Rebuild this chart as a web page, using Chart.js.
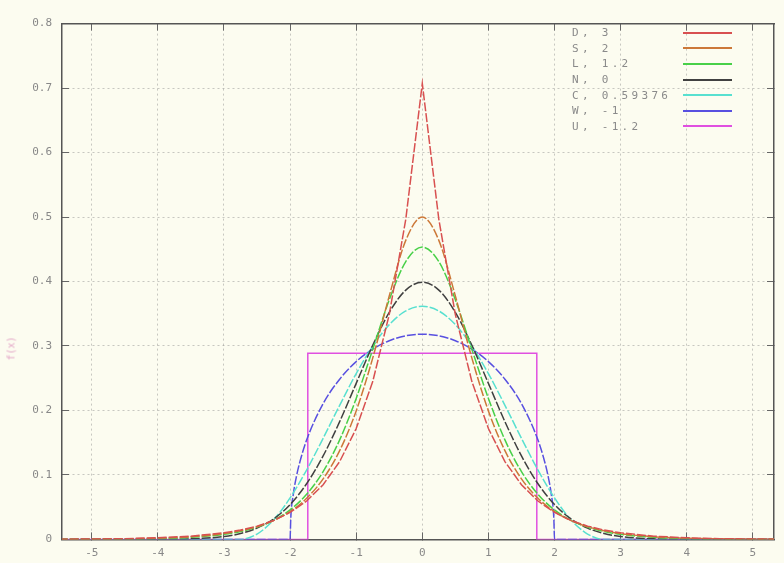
<!DOCTYPE html>
<html>
<head>
<meta charset="utf-8">
<script src="https://cdn.jsdelivr.net/npm/chart.js@4"></script>
<style>
  html, body { margin: 0; padding: 0; background: #fcfcf0; }
  #wrap { position: relative; width: 784px; height: 563px; }
  #legend {
    position: absolute; left: 572px; top: 25px;
    font-family: "DejaVu Sans Mono", monospace; font-size: 11px;
    letter-spacing: 3.3px; color: #8a8a8a;
  }
  #legend .row { display: flex; align-items: center; height: 15.6px; }
  #legend .lbl { width: 111px; white-space: pre; }
  #legend .key { width: 49px; height: 0; border-top: 2px solid; }
  #ytitle {
    position: absolute; left: -4px; top: 343px; width: 30px; text-align: center;
    transform: rotate(-90deg); font-family: "DejaVu Sans Mono", monospace;
    font-size: 10px; color: #e4a8c8;
  }
</style>
</head>
<body>
<div id="wrap">
  <canvas id="chart" width="784" height="563"></canvas>
  <div id="legend"></div>
  <div id="ytitle">f(x)</div>
</div>
<script>
// legend labels and colours
const labels = ["D, 3", "S, 2", "L, 1.2", "N, 0", "C, 0.59376", "W, -1", "U, -1.2"];
const colors = ["#d85050", "#cc7838", "#48d048", "#404040", "#58e0d0", "#5850e0", "#e050e0"];

// shared x positions for the smooth curves
const xs = [-5.5, -5, -4.5, -4, -3.5,
  -3, -2.75, -2.5, -2.25, -2, -1.75, -1.5, -1.25, -1, -0.75, -0.5, -0.25,
  0, 0.25, 0.5, 0.75, 1, 1.25, 1.5, 1.75, 2, 2.25, 2.5, 2.75, 3,
  3.5, 4, 4.5, 5, 5.5];

const laplace = [0.0003, 0.0006, 0.0012, 0.0025, 0.0050,
  0.0102, 0.0145, 0.0206, 0.0294, 0.0418, 0.0595, 0.0848, 0.1207, 0.1719, 0.2448, 0.3487, 0.4965,
  0.7071, 0.4965, 0.3487, 0.2448, 0.1719, 0.1207, 0.0848, 0.0595, 0.0418, 0.0294, 0.0206, 0.0145, 0.0102,
  0.0050, 0.0025, 0.0012, 0.0006, 0.0003];

const sech = [0.0002, 0.0004, 0.0009, 0.0019, 0.0041,
  0.0090, 0.0133, 0.0197, 0.0292, 0.0431, 0.0637, 0.0939, 0.1376, 0.1993, 0.2812, 0.3775, 0.4638,
  0.5000, 0.4638, 0.3775, 0.2812, 0.1993, 0.1376, 0.0939, 0.0637, 0.0431, 0.0292, 0.0197, 0.0133, 0.0090,
  0.0041, 0.0019, 0.0009, 0.0004, 0.0002];

const logistic = [0.0001, 0.0002, 0.0005, 0.0013, 0.0032,
  0.0078, 0.0122, 0.0191, 0.0296, 0.0457, 0.0699, 0.1051, 0.1543, 0.2186, 0.2947, 0.3716, 0.4309,
  0.4534, 0.4309, 0.3716, 0.2947, 0.2186, 0.1543, 0.1051, 0.0699, 0.0457, 0.0296, 0.0191, 0.0122, 0.0078,
  0.0032, 0.0013, 0.0005, 0.0002, 0.0001];

const normal = [0, 0, 0, 0.0001, 0.0009,
  0.0044, 0.0091, 0.0175, 0.0317, 0.0540, 0.0863, 0.1295, 0.1826, 0.2420, 0.3011, 0.3521, 0.3867,
  0.3989, 0.3867, 0.3521, 0.3011, 0.2420, 0.1826, 0.1295, 0.0863, 0.0540, 0.0317, 0.0175, 0.0091, 0.0044,
  0.0009, 0.0001, 0, 0, 0];

const cosine = [0, 0, 0, 0, 0,
  0, 0, 0.0083, 0.0302, 0.0643, 0.1076, 0.1568, 0.2080, 0.2571, 0.2998, 0.3331, 0.3543,
  0.3615, 0.3543, 0.3331, 0.2998, 0.2571, 0.2080, 0.1568, 0.1076, 0.0643, 0.0302, 0.0083, 0, 0,
  0, 0, 0, 0, 0];

// semicircle needs its own x positions near the edges
const wX = [-5.5, -2, -1.99, -1.95, -1.9, -1.85, -1.75, -1.5, -1.25, -1, -0.75, -0.5, -0.25,
  0, 0.25, 0.5, 0.75, 1, 1.25, 1.5, 1.75, 1.85, 1.9, 1.95, 1.99, 2, 5.5];
const wY = [0, 0, 0.0318, 0.0707, 0.0994, 0.1209, 0.1541, 0.2105, 0.2485, 0.2757, 0.2951, 0.3082, 0.3158,
  0.3183, 0.3158, 0.3082, 0.2951, 0.2757, 0.2485, 0.2105, 0.1541, 0.1209, 0.0994, 0.0707, 0.0318, 0, 0];

// uniform box
const uX = [-5.5, -1.732, -1.732, 1.732, 1.732, 5.5];
const uY = [0, 0, 0.2887, 0.2887, 0, 0];

const series = [
  [xs, laplace], [xs, sech], [xs, logistic], [xs, normal], [xs, cosine], [wX, wY], [uX, uY]
];

const toPoints = (x, y) => x.map((v, i) => ({ x: v, y: y[i] }));

// the laplace spike and the uniform box keep their corners, the rest are smoothed
const datasets = series.map(([x, y], i) => ({
  label: labels[i],
  data: toPoints(x, y),
  borderColor: colors[i],
  borderWidth: 1.5,
  borderDash: i < 6 ? [9, 2] : [],
  pointRadius: 0,
  tension: 0,
  cubicInterpolationMode: (i > 0 && i < 6) ? "monotone" : "default",
  fill: false
}));

const tickFont = { family: "DejaVu Sans Mono", size: 11 };
const gridLines = { color: "rgba(120,120,120,0.4)", tickLength: -7, tickColor: "#666", tickWidth: 1 };

const htmlLegend = {
  id: "htmlLegend",
  afterUpdate(chart) {
    const box = document.getElementById("legend");
    box.innerHTML = "";
    chart.data.datasets.forEach(ds => {
      const row = document.createElement("div");
      row.className = "row";
      const lbl = document.createElement("span");
      lbl.className = "lbl";
      lbl.textContent = ds.label;
      const key = document.createElement("span");
      key.className = "key";
      key.style.borderTopColor = ds.borderColor;
      row.appendChild(lbl);
      row.appendChild(key);
      box.appendChild(row);
    });
  }
};

new Chart(document.getElementById("chart"), {
  type: "line",
  data: { datasets },
  options: {
    responsive: false,
    animation: false,
    layout: { padding: { left: 0, top: 12, right: 10, bottom: 0 } },
    plugins: { legend: { display: false }, tooltip: { enabled: false } },
    scales: {
      x: {
        type: "linear", min: -5.45, max: 5.32,
        ticks: { stepSize: 1, includeBounds: false, padding: 14, color: "#888", font: tickFont },
        grid: gridLines,
        border: { color: "#555", width: 1.5, dash: [2, 3] },
        afterFit: s => { s.height = 23; }
      },
      y: {
        type: "linear", min: 0, max: 0.8,
        ticks: { stepSize: 0.1, padding: 17, color: "#888", font: tickFont },
        grid: gridLines,
        border: { color: "#555", width: 1.5, dash: [2, 3] },
        afterFit: s => { s.width = 62; }
      },
      xTop: {
        type: "linear", position: "top", min: -5.45, max: 5.32,
        ticks: { display: false, stepSize: 1, includeBounds: false },
        grid: { drawOnChartArea: false, tickLength: -7, tickColor: "#666" },
        border: { color: "#555", width: 1.5 },
        afterFit: s => { s.height = 0; }
      },
      yRight: {
        type: "linear", position: "right", min: 0, max: 0.8,
        ticks: { display: false, stepSize: 0.1 },
        grid: { drawOnChartArea: false, tickLength: -7, tickColor: "#666" },
        border: { color: "#555", width: 1.5 },
        afterFit: s => { s.width = 0; }
      }
    }
  },
  plugins: [htmlLegend]
});
</script>
</body>
</html>
